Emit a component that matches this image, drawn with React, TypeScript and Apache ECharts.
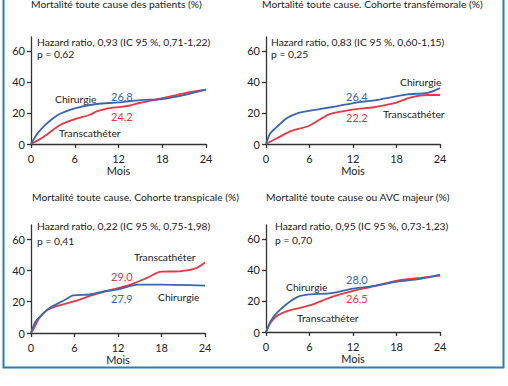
import React, { useEffect, useRef } from "react";
import * as echarts from "echarts";

const FONT = "Lato";
const FS = 10.3;
const BLUE = "#3a66ad";
const RED = "#e63946";

const xTicks = [0, 6, 12, 18, 24];
const yTicks = [0, 20, 40, 60];

const titles = [
  "Mortalité toute cause des patients (%)",
  "Mortalité toute cause. Cohorte transfémorale (%)",
  "Mortalité toute cause. Cohorte transpicale (%)",
  "Mortalité toute cause ou AVC majeur (%)",
];
const hazardTexts = [
  "Hazard ratio, 0,93 (IC 95 %, 0,71-1,22)",
  "Hazard ratio, 0,83 (IC 95 %, 0,60-1,15)",
  "Hazard ratio, 0,22 (IC 95 %, 0,75-1,98)",
  "Hazard ratio, 0,95 (IC 95 %, 0,73-1,23)",
];
const pTexts = ["p = 0,62", "p = 0,25", "p = 0,41", "p = 0,70"];
const chirLabels = ["26,8", "26,4", "27,9", "28,0"];
const transLabels = ["24,2", "22,2", "29,0", "26,5"];

// Panel 1 : tous patients
const p1ChirMonths = [0, 0.5, 1, 2, 3, 4, 6, 9, 12, 15, 18, 21, 24];
const p1ChirValues = [0, 4, 7.5, 12.5, 16.5, 19.5, 23, 25.8, 26.8, 28.3, 29, 31.6, 35];
const p1TransMonths = [0, 1, 2, 4, 6, 8, 9, 10, 11.3, 13.2, 15, 18, 21, 24];
const p1TransValues = [0, 2.5, 5.5, 12.3, 16, 18.7, 21, 22.4, 23.4, 24.5, 26.6, 29.5, 32.7, 35];

// Panel 2 : cohorte transfémorale
const p2ChirMonths = [0, 0.3, 0.6, 1.5, 2.9, 4.3, 5.9, 8.9, 11.9, 15.8, 19.5, 22.3, 24];
const p2ChirValues = [0, 4, 7, 11, 16.7, 19.8, 21.3, 23.7, 26.2, 28.8, 32, 33, 36];
const p2TransMonths = [0, 1.5, 3.6, 5.9, 7.3, 8.9, 11.9, 14.9, 17.7, 20, 22.3, 24];
const p2TransValues = [0, 3.7, 8.6, 11.6, 15.5, 19.4, 22.2, 23.7, 26.3, 30.1, 31.6, 31.6];

// Panel 3 : cohorte transapicale
const p3ChirMonths = [0, 0.6, 1.4, 2.4, 4.7, 5.8, 8.1, 9.9, 12, 14.8, 18, 24];
const p3ChirValues = [0, 7, 11.2, 15.5, 21.2, 24, 24.6, 26.5, 27.9, 30.9, 30.9, 30.3];
const p3TransMonths = [0, 0.4, 1.2, 2.6, 6, 9, 12, 14, 16, 18, 20.5, 22.8, 24];
const p3TransValues = [0, 3, 10, 15.5, 20.3, 25, 28.6, 31.4, 35.2, 39.2, 39.4, 41.5, 45];

// Panel 4 : mortalité ou AVC majeur
const p4ChirMonths = [0, 0.7, 1.6, 2.9, 4.3, 6, 9, 12, 15, 18.1, 21.3, 24];
const p4ChirValues = [0, 7.5, 12.8, 18.2, 22.5, 24.2, 25, 28, 29.8, 32.5, 34.3, 37];
const p4TransMonths = [0, 0.7, 1.6, 2.9, 6, 9, 12, 15, 18.1, 21.3, 24];
const p4TransValues = [0, 6.4, 10.7, 13.5, 17.1, 22.5, 26.5, 29.6, 33.2, 34.9, 36.4];

const panels = [
  { cm: p1ChirMonths, cv: p1ChirValues, tm: p1TransMonths, tv: p1TransValues },
  { cm: p2ChirMonths, cv: p2ChirValues, tm: p2TransMonths, tv: p2TransValues },
  { cm: p3ChirMonths, cv: p3ChirValues, tm: p3TransMonths, tv: p3TransValues },
  { cm: p4ChirMonths, cv: p4ChirValues, tm: p4TransMonths, tv: p4TransValues },
];

const grids = [
  { left: 31, top: 37, width: 175, height: 107 },
  { left: 266, top: 37, width: 174, height: 107 },
  { left: 31, top: 225, width: 174, height: 108 },
  { left: 266, top: 225, width: 174, height: 107 },
];

// annotation positions [x, y] (text left, vertical middle)
const titlePos = [[31, 3.5], [262, 3.5], [32, 197], [266, 197]];
const hazardPos = [[37, 42], [271, 42], [37, 226], [275, 226]];
const pPos = [[37, 54], [271, 54], [37, 241], [275, 240]];
const chirNamePos = [[55, 99], [400, 82], [158, 297], [286, 287]];
const transNamePos = [[59, 133], [383, 114], [134, 257], [297, 318]];
const chirValPos = [[111, 96], [346, 96], [111, 298], [346, 279]];
const transValPos = [[111, 116], [346, 117], [111, 276], [346, 298]];

function txt(text: string, pos: number[], color = "#222", size = FS) {
  return {
    type: "text",
    x: pos[0],
    y: pos[1],
    style: { text, fill: color, font: `${size}px ${FONT}`, textVerticalAlign: "middle", textAlign: "left" },
  };
}

export default function App() {
  const ref = useRef<HTMLDivElement>(null);
  useEffect(() => {
    if (!ref.current) return;
    const chart = echarts.init(ref.current, undefined, { renderer: "svg" });
    const axisLine = { lineStyle: { color: "#333", width: 1.3 } };
    const xAxis = grids.map((_, i) => ({
      type: "value",
      gridIndex: i,
      min: 0,
      max: 24,
      interval: 6,
      name: "Mois",
      nameLocation: "middle",
      nameGap: 20,
      nameTextStyle: { fontFamily: FONT, fontSize: 11, color: "#222" },
      axisLine,
      axisTick: { show: true, inside: false, length: 4, lineStyle: { color: "#333", width: 1.3 }, customValues: xTicks },
      axisLabel: { fontFamily: FONT, fontSize: 11, color: "#222", margin: 9, customValues: xTicks },
      splitLine: { show: false },
    }));
    const yAxis = grids.map((_, i) => ({
      type: "value",
      gridIndex: i,
      min: 0,
      max: 69,
      axisLine: { show: true, ...axisLine },
      axisTick: { show: true, inside: false, length: 4, lineStyle: { color: "#333", width: 1.3 }, customValues: yTicks },
      axisLabel: { fontFamily: FONT, fontSize: 11, color: "#222", margin: 6, customValues: yTicks },
      splitLine: { show: false },
    }));
    const series: any[] = [];
    panels.forEach((p, i) => {
      series.push({
        type: "line",
        xAxisIndex: i,
        yAxisIndex: i,
        data: p.tm.map((m, k) => [m, p.tv[k]]),
        smooth: 0.3,
        symbol: "none",
        lineStyle: { color: RED, width: 1.8 },
      });
      series.push({
        type: "line",
        xAxisIndex: i,
        yAxisIndex: i,
        data: p.cm.map((m, k) => [m, p.cv[k]]),
        smooth: 0.3,
        symbol: "none",
        lineStyle: { color: BLUE, width: 1.8 },
      });
    });
    const graphic: any[] = [
      {
        type: "rect",
        shape: { x: 3.5, y: -10, width: 500, height: 377.5 },
        style: { fill: "none", stroke: "#2a7db0", lineWidth: 2 },
      },
    ];
    for (let i = 0; i < 4; i++) {
      graphic.push(txt(titles[i], titlePos[i]));
      graphic.push(txt(hazardTexts[i], hazardPos[i]));
      graphic.push(txt(pTexts[i], pPos[i]));
      graphic.push(txt("Chirurgie", chirNamePos[i]));
      graphic.push(txt("Transcathéter", transNamePos[i]));
      graphic.push(txt(chirLabels[i], chirValPos[i], BLUE, 11));
      graphic.push(txt(transLabels[i], transValPos[i], RED, 11));
    }
    chart.setOption({
      animation: false,
      backgroundColor: "#fff",
      grid: grids,
      xAxis,
      yAxis,
      series,
      graphic,
    });
    return () => chart.dispose();
  }, []);
  return <div ref={ref} style={{ position: "fixed", left: 0, top: 0, width: 508, height: 386 }} />;
}
